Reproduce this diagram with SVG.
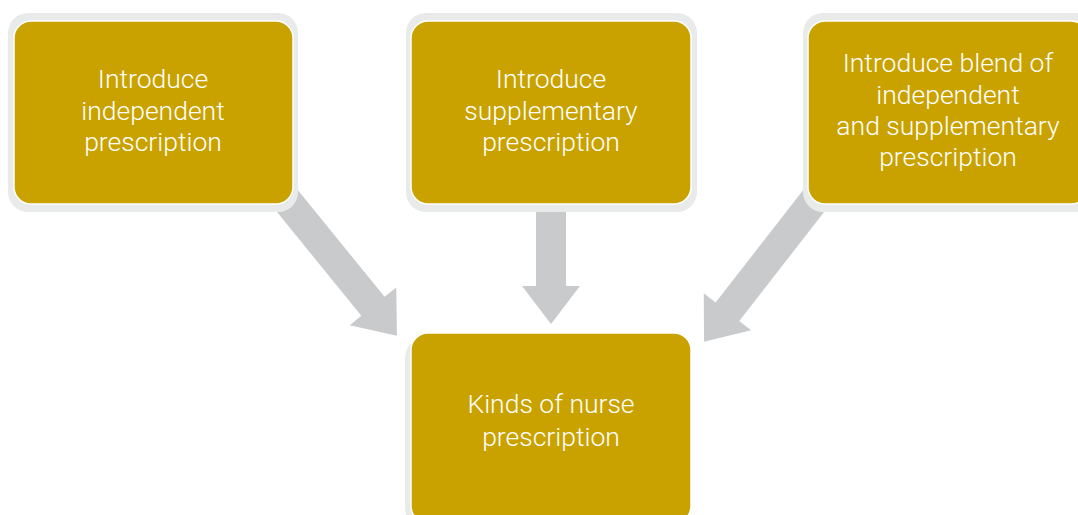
<svg xmlns="http://www.w3.org/2000/svg" width="1078" height="515" viewBox="0 0 1078 515">
<style>
.frame{fill:#e9eaea}
.box{fill:#c9a200;stroke:#ffffff;stroke-width:1.5}
.arrow{fill:#c9cacc}
.lbl{font-family:Roboto,"Liberation Sans",sans-serif;font-weight:300;font-size:26.5px;fill:#ffffff;text-anchor:middle}
</style>
<rect width="1078" height="515" fill="#ffffff"/>
<g id="connectors">
<polygon class="arrow" transform="translate(250,155) rotate(50.9)" points="0,-15 195,-15 195,-30 233,0 195,30 195,15 0,15"/>
<polygon class="arrow" transform="translate(551,190) rotate(90)" points="0,-15 96,-15 96,-29 134,0 96,29 96,15 0,15"/>
<polygon class="arrow" transform="translate(830,180) rotate(127.9)" points="0,-15 167,-15 167,-30 205,0 167,30 167,15 0,15"/>
</g>
<g id="node1">
<rect class="frame" x="8" y="13" width="290" height="199" rx="20"/>
<rect class="box" x="14" y="21" width="279" height="183" rx="17"/>
<text class="lbl"><tspan x="153" y="88">Introduce</tspan><tspan x="153" y="119.5">independent</tspan><tspan x="153" y="151">prescription</tspan></text>
</g>
<g id="node2">
<rect class="frame" x="406" y="13" width="291" height="199" rx="20"/>
<rect class="box" x="411" y="21" width="280" height="183" rx="17"/>
<text class="lbl"><tspan x="551" y="88">Introduce</tspan><tspan x="551" y="119.5">supplementary</tspan><tspan x="551" y="151">prescription</tspan></text>
</g>
<g id="node3">
<rect class="frame" x="803" y="13" width="300" height="199" rx="20"/>
<rect class="box" x="808" y="21" width="280" height="183" rx="17"/>
<text class="lbl"><tspan x="948" y="72">Introduce blend of</tspan><tspan x="948" y="103.5">independent</tspan><tspan x="948" y="135">and supplementary</tspan><tspan x="948" y="166">prescription</tspan></text>
</g>
<g id="node4">
<rect class="frame" x="405" y="338" width="285" height="190" rx="20"/>
<rect class="box" x="411" y="333" width="280" height="190" rx="17"/>
<text class="lbl"><tspan x="551" y="413">Kinds of nurse</tspan><tspan x="551" y="446">prescription</tspan></text>
</g>
</svg>
